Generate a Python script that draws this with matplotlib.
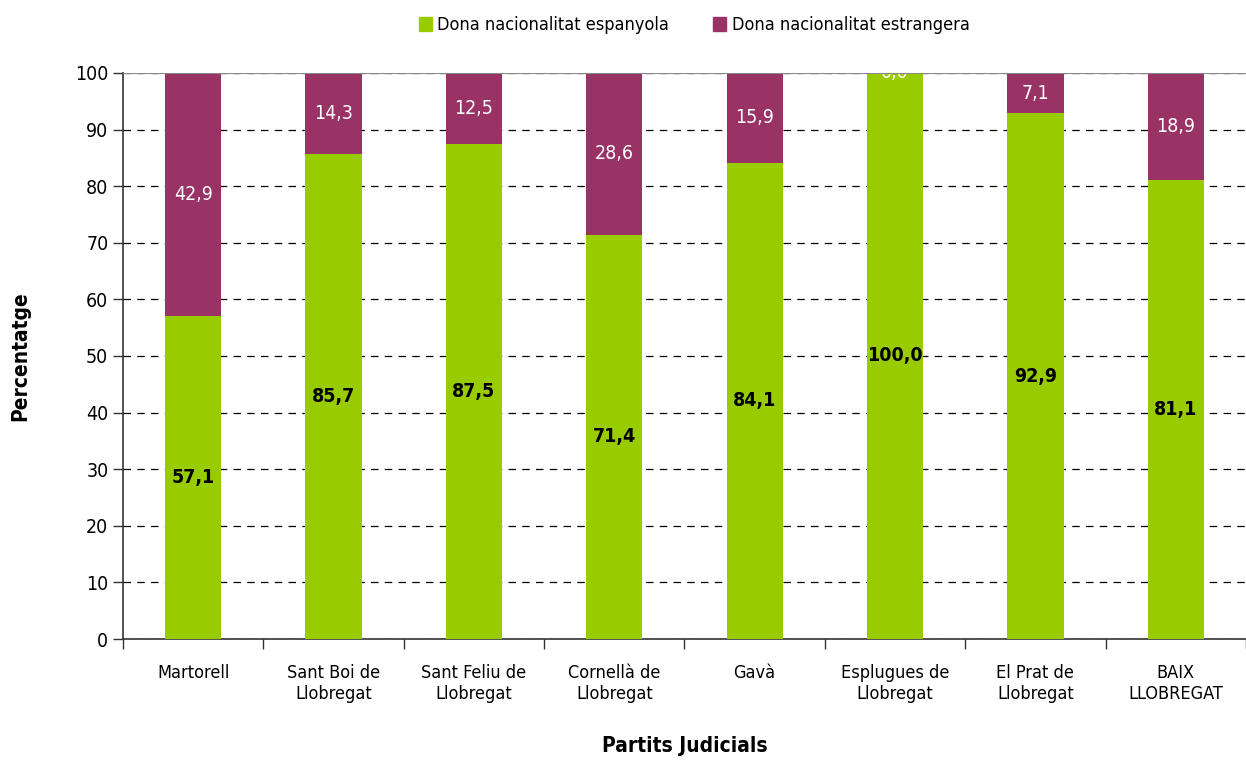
import numpy as np
from matplotlib import pyplot as plt
from matplotlib.patches import Patch

plt.rcParams['font.family'] = ['DejaVu Sans']
plt.rcParams['font.stretch'] = 'condensed'

partits = ["Martorell", "Sant Boi de\nLlobregat", "Sant Feliu de\nLlobregat", "Cornellà de\nLlobregat",
           "Gavà", "Esplugues de\nLlobregat", "El Prat de\nLlobregat", "BAIX\nLLOBREGAT"]
espanyola = [57.1, 85.7, 87.5, 71.4, 84.1, 100.0, 92.9, 81.1]
estrangera = [42.9, 14.3, 12.5, 28.6, 15.9, 0.0, 7.1, 18.9]

verd = "#99cc00"
lila = "#993366"

fig = plt.figure(figsize=(12.46, 7.61), dpi=100)
ax = fig.add_axes([0.0987, 0.1603, 0.9013, 0.7438])

x = np.arange(len(partits))
ax.bar(x, espanyola, 0.4, color=verd, zorder=3)
ax.bar(x, estrangera, 0.4, bottom=espanyola, color=lila, zorder=3)

# etiquetes dins les barres
for i in range(len(partits)):
    ax.text(x[i], espanyola[i] / 2, f"{espanyola[i]:.1f}".replace(".", ","),
            ha="center", va="center", fontsize=14, fontweight="bold", color="black", zorder=4)
    ax.text(x[i], espanyola[i] + estrangera[i] / 2, f"{estrangera[i]:.1f}".replace(".", ","),
            ha="center", va="center", fontsize=14, color="white", zorder=4)

ax.set_ylim(0, 100)
ax.set_xlim(-0.5, 7.43)
ax.set_yticks(range(0, 101, 10))
ax.yaxis.grid(True, linestyle=(0, (6, 5)), color="black", linewidth=0.9, zorder=0)
ax.axhline(100, color="#888888", linewidth=1.5, zorder=5)

ax.set_xticks(x)
ax.set_xticklabels(partits, fontsize=13)
ax.set_xticks(np.arange(-0.5, 8, 1), minor=True)
ax.tick_params(axis="x", which="major", length=0, pad=18)
ax.tick_params(axis="x", which="minor", length=7, width=1, color="#333333")
ax.tick_params(axis="y", length=7, width=1, color="#333333", labelsize=14, direction="out")

for s in ["top", "right"]:
    ax.spines[s].set_visible(False)
ax.spines["left"].set_color("#333333")
ax.spines["bottom"].set_color("#333333")
ax.spines["left"].set_linewidth(1.2)
ax.spines["bottom"].set_linewidth(1.2)

ax.set_ylabel("Percentatge", fontsize=15, fontweight="bold", labelpad=32)
ax.set_xlabel("Partits Judicials", fontsize=15, fontweight="bold", labelpad=24)

handles = [Patch(color=verd, label="Dona nacionalitat espanyola"),
           Patch(color=lila, label="Dona nacionalitat estrangera")]
fig.legend(handles=handles, loc="upper center", bbox_to_anchor=(0.557, 1.0), ncol=2, frameon=False,
           fontsize=13, handlelength=0.75, handleheight=0.75, handletextpad=0.3, columnspacing=2.4)

fig.savefig("out.png", dpi=100)
